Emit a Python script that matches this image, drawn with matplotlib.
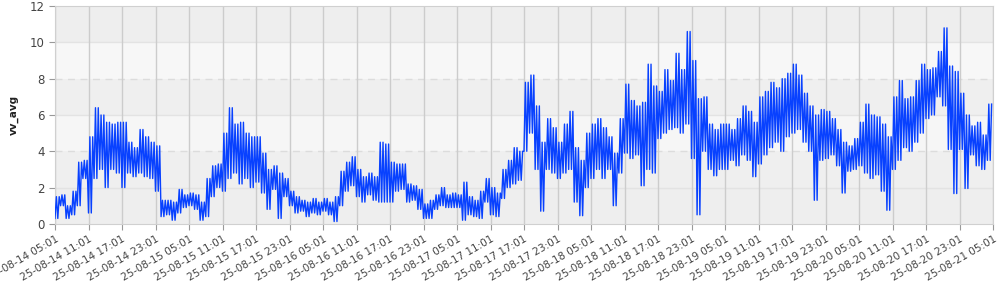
import matplotlib
matplotlib.use("Agg")
import matplotlib.pyplot as plt
import matplotlib.dates as mdates
import numpy as np
import pandas as pd

# hourly envelope of vv_avg (low / high per hour)
start = pd.Timestamp("2025-08-14 05:01")
vv_low = [
    0.3, 1.0, 0.3, 0.5, 1.0, 2.5,
    0.6, 2.5, 3.0, 2.0, 3.0, 2.8,
    2.0, 2.8, 2.6, 2.8, 2.6, 2.5,
    1.8, 0.4, 0.5, 0.2, 0.6, 0.9,
    1.0, 0.8, 0.2, 0.4, 1.5, 2.0,
    1.8, 2.5, 2.8, 2.2, 2.5, 2.0,
    2.3, 1.7, 0.8, 1.9, 0.3, 1.5,
    1.0, 0.6, 0.7, 0.4, 0.6, 0.5,
    0.7, 0.5, 0.13, 1.0, 1.8, 2.1,
    1.5, 1.2, 1.6, 1.3, 1.2, 1.2,
    1.2, 1.8, 1.9, 1.2, 1.3, 0.8,
    0.3, 0.3, 0.8, 1.0, 0.9, 0.9,
    0.9, 0.2, 0.5, 0.4, 0.3, 1.2,
    0.5, 0.4, 1.4, 2.0, 2.2, 2.4,
    4.0, 5.0, 3.0, 0.7, 3.0, 2.8,
    2.5, 2.8, 3.0, 1.2, 0.45, 2.0,
    2.5, 3.0, 2.5, 3.0, 1.0, 2.8,
    3.9, 3.6, 3.8, 2.1, 3.0, 2.8,
    4.7, 5.0, 5.2, 5.3, 5.0, 5.5,
    3.6, 0.5, 4.0, 3.0, 2.65, 3.0,
    3.0, 3.5, 3.2, 3.8, 3.5, 2.6,
    3.3, 3.8, 4.2, 4.5, 4.0, 4.8,
    5.0, 5.2, 4.5, 4.0, 1.3, 3.5,
    3.6, 3.8, 3.2, 1.7, 2.9, 3.0,
    3.2, 2.8, 2.5, 2.7, 1.8, 0.75,
    3.0, 3.5, 4.2, 4.0, 4.5, 5.0,
    5.8, 6.0, 7.0, 6.5, 4.1, 1.67,
    4.1, 1.95, 3.8, 3.2, 3.0, 3.5,
]
vv_high = [
    1.5, 1.6, 1.0, 1.8, 3.4, 3.5,
    4.8, 6.4, 6.0, 5.6, 5.5, 5.6,
    5.6, 4.5, 4.2, 5.2, 4.8, 4.5,
    4.3, 1.3, 1.3, 1.2, 1.9, 1.6,
    1.7, 1.6, 1.2, 2.5, 3.2, 3.3,
    5.0, 6.4, 5.5, 5.6, 5.0, 4.8,
    4.8, 3.9, 3.0, 3.2, 2.8, 2.5,
    1.8, 1.5, 1.3, 1.2, 1.4, 1.2,
    1.4, 1.2, 1.5, 2.9, 3.4, 3.7,
    3.0, 2.6, 2.8, 2.6, 4.5, 4.4,
    3.4, 3.3, 3.3, 2.2, 2.1, 1.9,
    1.1, 1.3, 1.6, 2.0, 1.6, 1.7,
    1.6, 2.3, 1.5, 1.3, 1.8, 2.5,
    2.0, 1.7, 3.0, 3.5, 4.2, 4.0,
    7.8, 8.2, 6.5, 4.5, 5.8, 5.3,
    4.5, 5.5, 6.2, 4.2, 3.5, 5.0,
    5.5, 5.8, 5.3, 4.8, 3.9, 5.8,
    7.7, 6.8, 6.5, 6.7, 8.8, 7.6,
    7.3, 8.5, 7.9, 9.4, 8.5, 10.6,
    9.0, 6.9, 7.0, 5.5, 5.2, 5.5,
    5.5, 5.2, 5.8, 6.5, 6.2, 5.6,
    7.0, 7.3, 7.8, 7.5, 8.0, 8.3,
    8.8, 8.2, 7.2, 6.5, 6.0, 6.3,
    6.2, 5.8, 5.2, 4.5, 4.3, 4.7,
    5.6, 6.6, 6.0, 5.9, 5.5, 4.8,
    7.0, 7.9, 6.9, 7.0, 7.9, 8.8,
    8.5, 8.6, 9.5, 10.8, 8.7, 8.4,
    7.2, 6.0, 5.4, 5.6, 4.9, 6.6,
]
y_ticks = [0, 2, 4, 6, 8, 10, 12]

# zigzag between the low and high of each hour (4 samples per hour)
hours = pd.date_range(start, periods=len(vv_low), freq="h")
times, values = [], []
for t, lo, hi in zip(hours, vv_low, vv_high):
    for k, v in enumerate([lo, hi, lo, hi]):
        times.append(t + pd.Timedelta(minutes=15 * k))
        values.append(v)

fig = plt.figure(figsize=(10, 2.9), dpi=100)
ax = fig.add_axes([0.055, 0.228, 0.938, 0.751])

# background bands
bands = [(0, 2, "#eeeeee"), (2, 4, "#efefef"), (4, 6, "#f6f6f6"),
         (6, 8, "#efefef"), (8, 10, "#f7f7f7"), (10, 12, "#eeeeee")]
for lo, hi, c in bands:
    ax.axhspan(lo, hi, color=c, zorder=0, lw=0)
for y in [2, 6, 10]:
    ax.axhline(y, color="#e3e3e3", lw=1, zorder=1)
for y in [4, 8]:
    ax.axhline(y, color="#dcdcdc", lw=1, ls=(0, (5, 4)), zorder=1)

ax.plot(times, values, color="#0841ff", lw=1.0, zorder=3)

end = start + pd.Timedelta(days=7)
ax.set_xlim(start, end)
ax.set_ylim(0, 12)
xt = pd.date_range(start, end, freq="6h")
ax.set_xticks(xt)
ax.xaxis.set_major_formatter(mdates.DateFormatter("%y-%m-%d %H:%M"))
ax.grid(axis="x", color="#cccccc", lw=1, zorder=1)
ax.set_yticks(y_ticks)
ax.tick_params(axis="x", labelsize=7.5, colors="#444444", length=4, color="#999999")
ax.tick_params(axis="y", labelsize=8.5, colors="#444444", length=4, color="#999999")
for lab in ax.get_xticklabels():
    lab.set_rotation(30)
    lab.set_ha("right")
    lab.set_rotation_mode("anchor")
for s in ax.spines.values():
    s.set_color("#d0d0d0")
ax.set_ylabel("vv_avg", fontsize=7.5, fontweight="bold", color="#222222", labelpad=8)

fig.savefig("out.png", dpi=100)
